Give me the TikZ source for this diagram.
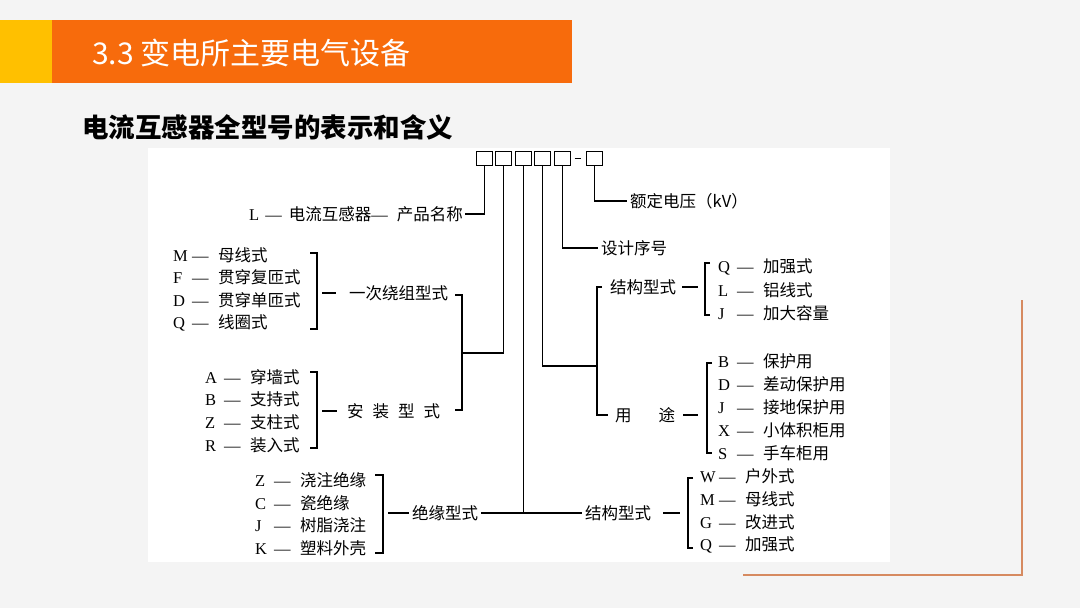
\documentclass[tikz,border=0pt]{standalone}
\usepackage{fontspec}
\setmainfont{Liberation Serif}
\newfontfamily\cjk{Noto Sans CJK SC}
\usetikzlibrary{positioning}

\definecolor{barorange}{RGB}{247,107,12}
\definecolor{baryellow}{RGB}{255,192,0}
\definecolor{rimbrown}{RGB}{214,138,96}
\definecolor{pagegray}{RGB}{244,244,244}

\newcommand{\optline}[2]{\makebox[19pt][l]{#1}\makebox[26pt][l]{—}{\cjk #2}}

\begin{document}
\begin{tikzpicture}[x=1pt,y=-1pt,
  link/.style={line width=1.1pt},
  cell/.style={draw, line width=1.1pt, minimum width=16pt,
               minimum height=13.5pt, inner sep=0pt},
  opt/.style={anchor=west, inner sep=0pt, font=\fontsize{16.5}{20}\selectfont},
  lbl/.style={anchor=west, inner sep=3pt, font=\fontsize{16.5}{20}\selectfont\cjk}]

\useasboundingbox (0,0) rectangle (1080,608);
\fill[pagegray] (0,0) rectangle (1080,608);
\fill[white] (148,148) rectangle (890,562);

% Header
\fill[baryellow] (0,20) rectangle (52,83);
\fill[barorange] (52,20) rectangle (572,83);
\node[anchor=west, inner sep=0pt, text=white,
      font=\fontsize{30}{34}\selectfont\cjk] (title) at (92,53) {3.3 变电所主要电气设备};
\node[anchor=west, inner sep=0pt,
      font=\fontsize{26.5}{30}\selectfont\cjk\bfseries] (subtitle) at (82,127) {电流互感器全型号的表示和含义};

% Corner rim
\draw[rimbrown, line width=2.5pt] (743,575) -- (1022,575) -- (1022,300);

% Code cells
\foreach \i/\x in {1/484.7,2/503.7,3/523.3,4/542.3,5/562.3,6/594.3}{
    \node[cell] (c\i) at (\x,158.3) {};
}
\draw[link, shorten <=3.7pt, shorten >=4.5pt] (c5.east) -- (c6.west);

% Labels
\node[opt, anchor=east, inner sep=2pt] (pname) at (465,214)
    {L\hspace{6pt}—\hspace{7pt}{\cjk 电流互感器}—\hspace{9pt}{\cjk 产品名称}};
\node[lbl] (volt) at (627,201) {额定电压（kV）};
\node[lbl] (seq) at (598,248) {设计序号};
\node[lbl] (wlab) at (346,293) {一次绕组型式};
\node[lbl] (mlab) at (344,411) {安\hspace{9pt}装\hspace{9pt}型\hspace{9pt}式};
\node[lbl] (ilab) at (409,513) {绝缘型式};
\node[lbl] (slab2) at (582,513) {结构型式};
\node[lbl] (slab1) at (607,287) {结构型式};
\node[lbl] (ulab) at (612,415) {用\hspace{27pt}途};

% Option lists
\foreach \ltr/\wrd [count=\i from 0] in {M/母线式,F/贯穿复匝式,D/贯穿单匝式,Q/线圈式}
    \node[opt] (wind\i) at (173,255+22.6*\i) {\optline{\ltr}{\wrd}};
\foreach \ltr/\wrd [count=\i from 0] in {A/穿墙式,B/支持式,Z/支柱式,R/装入式}
    \node[opt] (mount\i) at (205,376.7+22.8*\i) {\optline{\ltr}{\wrd}};
\foreach \ltr/\wrd [count=\i from 0] in {Z/浇注绝缘,C/瓷绝缘,J/树脂浇注,K/塑料外壳}
    \node[opt] (insul\i) at (255,480+22.7*\i) {\optline{\ltr}{\wrd}};
\foreach \ltr/\wrd [count=\i from 0] in {Q/加强式,L/铝线式,J/加大容量}
    \node[opt] (struA\i) at (718,266.7+23.2*\i) {\optline{\ltr}{\wrd}};
\foreach \ltr/\wrd [count=\i from 0] in {B/保护用,D/差动保护用,J/接地保护用,X/小体积柜用,S/手车柜用}
    \node[opt] (use\i) at (718,361.7+22.8*\i) {\optline{\ltr}{\wrd}};
\foreach \ltr/\wrd [count=\i from 0] in {W/户外式,M/母线式,G/改进式,Q/加强式}
    \node[opt] (struB\i) at (700,476.7+22.8*\i) {\optline{\ltr}{\wrd}};

% Brackets
\draw[link] (310,253) -- (317,253) -- (317,329) -- (310,329);
\draw[link] (310,372) -- (317,372) -- (317,448) -- (310,448);
\draw[link] (375,475) -- (383,475) -- (383,553) -- (375,553);
\draw[link] (710,263) -- (705,263) -- (705,315) -- (710,315);
\draw[link] (712,363) -- (707,363) -- (707,453) -- (712,453);
\draw[link] (693,478) -- (688,478) -- (688,548) -- (693,548);
\draw[link] (455,295) -- (462,295) -- (462,410) -- (455,410);
\draw[link] (602,287) -- (597,287) -- (597,415) -- (608,415);

\coordinate (kw) at (317,293);
\coordinate (km) at (317,411);
\coordinate (ki) at (383,513);
\coordinate (ks1) at (705,287);
\coordinate (ku) at (707,415);
\coordinate (ks2) at (688,513);
\coordinate (j1) at (462,353);
\coordinate (j2) at (597,366);

% Bracket ties
\draw[link, shorten <=5pt, shorten >=10pt] (kw) -- (wlab.west);
\draw[link, shorten <=5pt, shorten >=7pt] (km) -- (mlab.west);
\draw[link, shorten <=5pt] (ki) -- (ilab.west);
\draw[link, shorten <=3pt, shorten >=7pt] (slab1.east) -- (ks1);
\draw[link, shorten <=5pt, shorten >=9pt] (ulab.east) -- (ku);
\draw[link, shorten <=9pt, shorten >=8pt] (slab2.east) -- (ks2);

% Cell leads
\draw[link] (c1.south) |- (pname.east);
\draw[link] (c2.south) |- (j1);
\draw[link] (c3.south) -- (c3.south |- ilab.east);
\draw[link] (ilab.east) -- (slab2.west);
\draw[link] (c4.south) |- (j2);
\draw[link] (c5.south) |- (seq.west);
\draw[link] (c6.south) |- (volt.west);

\end{tikzpicture}
\end{document}
